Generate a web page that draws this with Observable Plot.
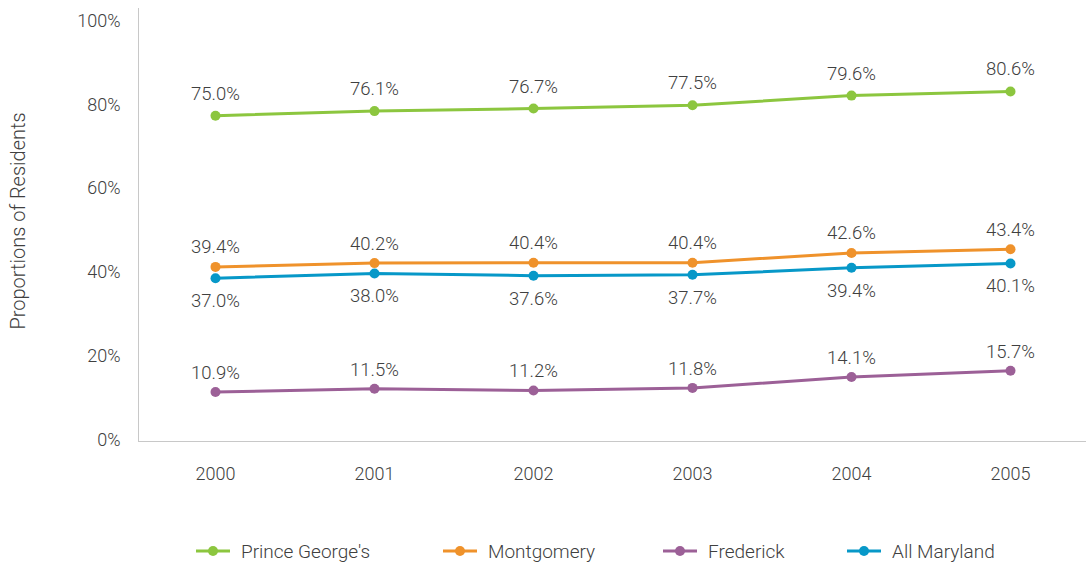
<!DOCTYPE html>
<html><head><meta charset="utf-8">
<script src="https://cdn.jsdelivr.net/npm/d3@7"></script>
<script src="https://cdn.jsdelivr.net/npm/@observablehq/plot@0.6"></script>
<style>
body{margin:0;background:#fff;font-family:Roboto,sans-serif;font-weight:300;color:#404040;}
#legend{position:relative;margin-top:30px;height:22px;font-size:19px;}
#legend .item{position:absolute;top:0;display:flex;align-items:center;height:22px;}
#legend .item span{margin-left:11px;}
svg text{font-weight:300;}
</style></head><body><div id="chart"></div><div id="legend"></div>
<script>
const years = ["2000","2001","2002","2003","2004","2005"];
const seriesNames = ["Prince George's","Montgomery","Frederick","All Maryland"];
const seriesColors = ["#8cc63f","#ef922b","#9c6097","#0798c8"];
// plotted positions (percent)
const princeGeorges = [77.4,78.5,79.1,79.9,82.2,83.2];
const montgomery = [41.3,42.2,42.3,42.3,44.6,45.5];
const frederick = [11.4,12.2,11.8,12.4,15.0,16.5];
const allMaryland = [38.6,39.7,39.2,39.4,41.1,42.1];
// printed data labels
const princeGeorgesLabels = ["75.0%","76.1%","76.7%","77.5%","79.6%","80.6%"];
const montgomeryLabels = ["39.4%","40.2%","40.4%","40.4%","42.6%","43.4%"];
const fredrickLabels = ["10.9%","11.5%","11.2%","11.8%","14.1%","15.7%"];
const allMarylandLabels = ["37.0%","38.0%","37.6%","37.7%","39.4%","40.1%"];
const yTicks = [0,20,40,60,80,100];
const yLabel = "Proportions of Residents";

const values = [princeGeorges, montgomery, frederick, allMaryland];
const labels = [princeGeorgesLabels, montgomeryLabels, fredrickLabels, allMarylandLabels];
const labelDy = [-22,-19.5,-19,23];
const data = [];
seriesNames.forEach((s,i)=>years.forEach((y,j)=>data.push({series:s, year:y, value:values[i][j], label:labels[i][j], si:i})));

const marks = [
  Plot.frame({anchor:"left", stroke:"#c8c8c8"}),
  Plot.frame({anchor:"bottom", stroke:"#c8c8c8"}),
  Plot.axisY({ticks:yTicks, tickFormat:d=>d+"%", tickSize:0, tickPadding:18, label:null, fontSize:18}),
  Plot.axisX({tickSize:0, tickPadding:26, label:null, fontSize:18}),
  Plot.text([yLabel], {frameAnchor:"left", textAnchor:"middle", rotate:-90, dx:-120, dy:-4, fontSize:20, fill:"#404040"})
];
seriesNames.forEach((s,i)=>{
  const d = data.filter(r=>r.si===i);
  marks.push(Plot.line(d,{x:"year", y:"value", stroke:seriesColors[i], strokeWidth:3}));
  marks.push(Plot.dot(d,{x:"year", y:"value", fill:seriesColors[i], r:5}));
  marks.push(Plot.text(d,{x:"year", y:"value", text:"label", dy:labelDy[i], fontSize:18.5, fill:"#404040"}));
});

const chart = Plot.plot({
  width:1086, height:510,
  marginTop:8, marginBottom:69, marginLeft:138, marginRight:0,
  style:{fontFamily:"Roboto, sans-serif", fontSize:"18px", color:"#404040", background:"#fff"},
  x:{type:"point", domain:years, padding:0.47},
  y:{domain:[-0.4,103]},
  marks
});
document.getElementById("chart").appendChild(chart);

const legendLeft = [196,443,663,847];
const legend = document.getElementById("legend");
seriesNames.forEach((s,i)=>{
  const it = document.createElement("div");
  it.className="item";
  it.style.left = legendLeft[i]+"px";
  it.innerHTML = `<svg width="34" height="12"><line x1="0" y1="6" x2="34" y2="6" stroke="${seriesColors[i]}" stroke-width="3"/><circle cx="17" cy="6" r="5" fill="${seriesColors[i]}"/></svg><span>${s}</span>`;
  legend.appendChild(it);
});
</script></body></html>
